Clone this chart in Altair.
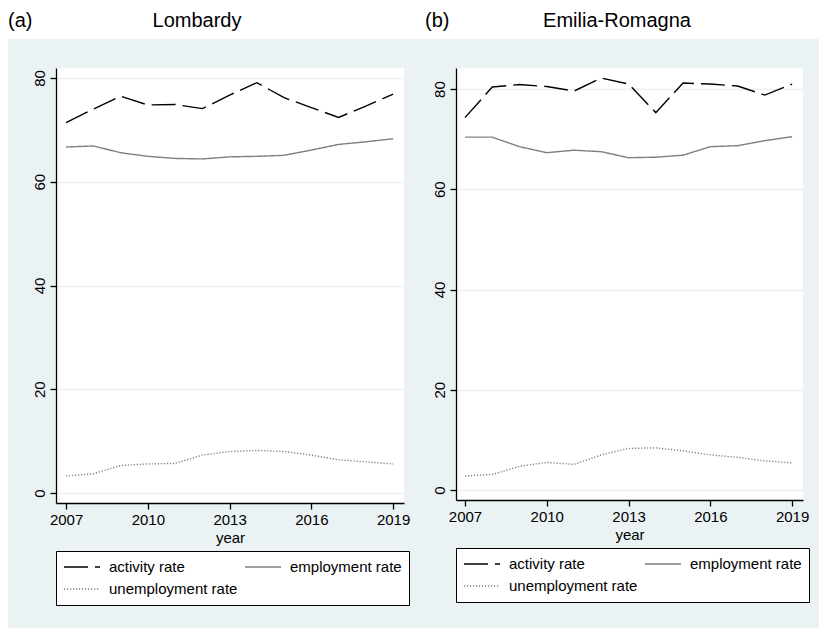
import altair as alt
import pandas as pd

# ---------------- data ----------------
years = list(range(2007, 2020))
series_names = ["activity rate", "employment rate", "unemployment rate"]

lom_activity = [71.4, 74.0, 76.5, 74.8, 74.9, 74.1, 76.7, 79.1, 76.2, 74.3, 72.4, 74.6, 76.9]
lom_employment = [66.7, 66.9, 65.6, 64.9, 64.5, 64.4, 64.8, 64.9, 65.1, 66.1, 67.2, 67.7, 68.3]
lom_unemployment = [3.3, 3.7, 5.3, 5.6, 5.7, 7.3, 8.0, 8.2, 8.0, 7.3, 6.4, 6.0, 5.6]

er_activity = [74.3, 80.4, 80.9, 80.5, 79.6, 82.2, 81.0, 75.3, 81.2, 81.0, 80.6, 78.8, 81.0]
er_employment = [70.4, 70.4, 68.5, 67.3, 67.8, 67.5, 66.3, 66.4, 66.8, 68.5, 68.7, 69.7, 70.5]
er_unemployment = [2.8, 3.1, 4.7, 5.5, 5.1, 7.0, 8.3, 8.4, 7.8, 7.0, 6.5, 5.8, 5.4]

panel_tags = ["(a)", "(b)"]
panel_titles = ["Lombardy", "Emilia-Romagna"]
x_ticks = [2007, 2010, 2013, 2016, 2019]
y_ticks = [0, 20, 40, 60, 80]

BG = "#EAF2F3"
FONT = "Liberation Sans"


def long_df(act, emp, unemp):
    rows = []
    for name, vals in zip(series_names, [act, emp, unemp]):
        for yr, v in zip(years, vals):
            rows.append({"year": yr, "rate": v, "series": name})
    return pd.DataFrame(rows)


def make_legend():
    return alt.Legend(title=None, orient="bottom", direction="horizontal", columns=2,
                      symbolType="stroke", symbolSize=1296,
                      symbolStrokeWidth=1.4, clipHeight=18, labelFontSize=15,
                      labelFont=FONT, labelColor="black", labelLimit=300,
                      strokeColor="black", fillColor="white", padding=7,
                      rowPadding=4, columnPadding=6, labelOffset=8, offset=6)


def panel(df, width, height, xdom, ydom, y_min_extent):
    return alt.Chart(df).mark_line(strokeWidth=1.4).encode(
        x=alt.X("year:Q",
                scale=alt.Scale(domain=xdom, nice=False, zero=False),
                axis=alt.Axis(values=x_ticks, format="d", title="year", grid=False,
                              labelPadding=3, titlePadding=3)),
        y=alt.Y("rate:Q",
                scale=alt.Scale(domain=ydom, nice=False, zero=False),
                axis=alt.Axis(values=y_ticks, title=None, labelAngle=270, grid=True,
                              minExtent=y_min_extent, labelPadding=3)),
        color=alt.Color("series:N",
                        scale=alt.Scale(domain=series_names,
                                        range=["#000000", "#7f7f7f", "#7f7f7f"]),
                        legend=make_legend()),
        strokeDash=alt.StrokeDash("series:N",
                                  scale=alt.Scale(domain=series_names,
                                                  range=[[24, 7], [1, 0], [1.2, 1.8]]),
                                  legend=make_legend()),
    ).properties(width=width, height=height,
                 view=alt.ViewBackground(fill="white", stroke=None))


left = panel(long_df(lom_activity, lom_employment, lom_unemployment),
             348, 435, [2006.63, 2019.4], [-1.93, 81.93], 47)
right = panel(long_df(er_activity, er_employment, er_unemployment),
              347, 432, [2006.67, 2019.4], [-2.0, 84.2], 46)

base = alt.Chart(pd.DataFrame({"k": [0]}))

# invisible 1px spacer so the left axis stays inside the canvas
spacer = base.mark_point(size=0, opacity=0, x=0, y=0).properties(
    width=1, height=1, view=alt.ViewBackground(fill=BG, stroke=None))


def title_text(label, xpos, align):
    return base.mark_text(text=label, x=xpos, y=19, align=align, baseline="alphabetic",
                          fontSize=20, font=FONT, color="black")


title_row = alt.layer(
    title_text(panel_tags[0], 0, "left"),
    title_text(panel_titles[0], 189, "center"),
    title_text(panel_tags[1], 417, "left"),
    title_text(panel_titles[1], 609, "center"),
).properties(width=811, height=31,
             view=alt.ViewBackground(fill="white", stroke=None))

panels = alt.hconcat(spacer, left, right, spacing=0).resolve_scale(
    x="independent", y="independent", color="independent", strokeDash="independent"
).resolve_legend(color="independent", strokeDash="independent")

chart = alt.vconcat(title_row, panels, spacing=29).properties(
    padding={"left": 0, "top": 0, "right": 0, "bottom": 22},
    background=BG,
).configure(font=FONT).configure_view(
    stroke=None
).configure_axis(
    labelFont=FONT, labelFontSize=15, labelColor="black",
    titleFont=FONT, titleFontSize=15, titleColor="black", titleFontWeight="normal",
    domainColor="black", domainWidth=1.3, tickColor="black", tickWidth=1.3, tickSize=6,
    gridColor=BG, gridWidth=1.3,
)

chart.save("out.html", embed_options={"renderer": "svg", "actions": False})
